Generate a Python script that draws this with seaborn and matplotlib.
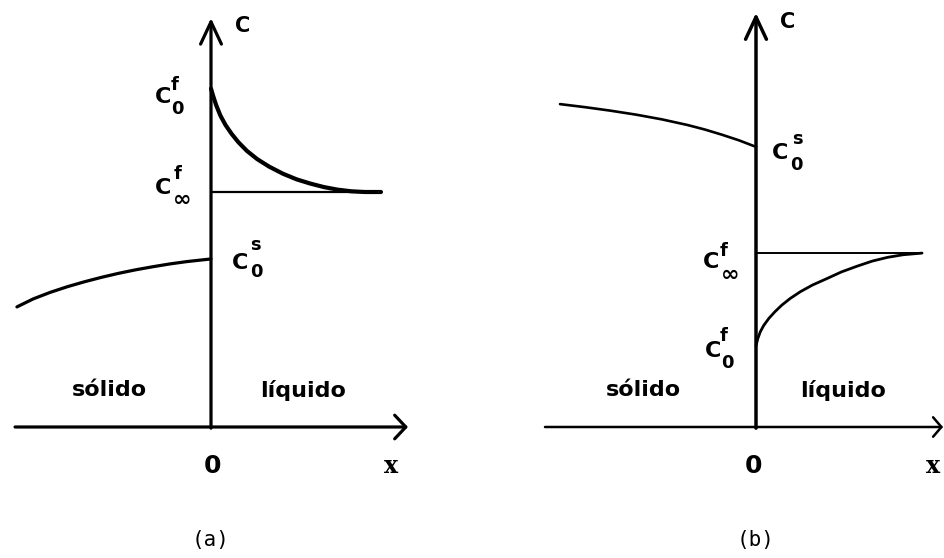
import matplotlib
matplotlib.use("Agg")
import matplotlib.pyplot as plt
import seaborn as sns

sns.set_theme(style="white")
plt.rcParams["font.family"] = ["DejaVu Sans"]
plt.rcParams["text.color"] = "black"

# ---- concentration profiles (x: distance from interface, C: concentration) ----
# (a) liquid side: enriched layer decaying towards the bulk value
a_liq_x = [0.000, 0.012, 0.030, 0.055, 0.085, 0.120, 0.160, 0.210, 0.270,
           0.340, 0.420, 0.500, 0.580, 0.660, 0.740, 0.820, 0.900, 0.994]
a_liq_c = [1.440, 1.410, 1.370, 1.325, 1.285, 1.248, 1.212, 1.175, 1.140,
           1.108, 1.078, 1.054, 1.036, 1.021, 1.010, 1.003, 1.000, 1.000]
# (a) solid side
a_sol_x = [-1.135, -1.040, -0.940, -0.840, -0.740, -0.640, -0.540, -0.440,
           -0.340, -0.240, -0.140, -0.040, 0.000]
a_sol_c = [0.511, 0.545, 0.573, 0.597, 0.618, 0.637, 0.654, 0.669,
           0.682, 0.694, 0.704, 0.712, 0.715]
a_cinf = 1.000
a_cinf_end = 0.994

# (b) liquid side: depleted layer rising towards the bulk value
b_liq_x = [0.000, 0.010, 0.025, 0.045, 0.075, 0.110, 0.150, 0.200, 0.260,
           0.330, 0.410, 0.500, 0.590, 0.680, 0.770, 0.860, 0.971]
b_liq_c = [0.345, 0.375, 0.405, 0.432, 0.462, 0.490, 0.518, 0.547, 0.576,
           0.604, 0.630, 0.660, 0.684, 0.706, 0.722, 0.733, 0.740]
# (b) solid side
b_sol_x = [-1.146, -1.000, -0.850, -0.700, -0.550, -0.400, -0.300, -0.200,
           -0.100, 0.000]
b_sol_c = [1.374, 1.361, 1.346, 1.329, 1.309, 1.285, 1.266, 1.244,
           1.220, 1.192]
b_cinf = 0.740
b_cinf_end = 0.971

region_labels = ["sólido", "líquido"]
panel_labels = ["(a)", "(b)"]

# ---- figure geometry ----
W, H = 945, 558
PX_X, PX_C = 171.0, 235.0   # pixels per data unit
BASE_PX = 427               # row of the x axis

fig = plt.figure(figsize=(W / 100, H / 100), dpi=100)
fig.patch.set_facecolor("white")


def make_axes(left_px, right_px, origin_px):
    ax = fig.add_axes([left_px / W, 0, (right_px - left_px) / W, 1])
    ax.set_xlim((left_px - origin_px) / PX_X, (right_px - origin_px) / PX_X)
    ax.set_ylim(-(H - BASE_PX) / PX_C, BASE_PX / PX_C)
    ax.set_axis_off()
    return ax


def arrow(ax, start, end, lw, hl, hw):
    ax.annotate("", xy=end, xytext=start,
                arrowprops=dict(arrowstyle=f"->,head_length={hl},head_width={hw}",
                                lw=lw, color="black", shrinkA=0, shrinkB=0,
                                mutation_scale=1))


def conc_label(ax, x, y, sub, sup, sub_off, sup_off):
    sub_size = 16 if sub == "∞" else 13
    ax.text(x, y, "C", ha="center", va="center", fontsize=16, fontweight="bold")
    ax.annotate(sub, (x, y), xytext=sub_off, textcoords="offset points",
                ha="center", va="center", fontsize=sub_size, fontweight="bold")
    ax.annotate(sup, (x, y), xytext=sup_off, textcoords="offset points",
                ha="center", va="center", fontsize=13, fontweight="bold")


def common_text(ax, sol_x, liq_x, zero_x, x_x, panel):
    ax.text(sol_x, 0.157, region_labels[0], ha="center", va="center",
            fontsize=16, fontweight="bold")
    ax.text(liq_x, 0.157, region_labels[1], ha="center", va="center",
            fontsize=16, fontweight="bold")
    ax.text(zero_x, -0.165, "0", ha="center", va="center", fontsize=18,
            fontweight="bold")
    ax.text(x_x, -0.165, "x", ha="center", va="center", fontsize=17,
            fontweight="bold", family="DejaVu Serif")
    ax.text(0.0, -0.48, panel, ha="center", va="center", fontsize=15,
            family="DejaVu Sans Mono")


# ---------------- panel (a) ----------------
ax_a = make_axes(0, W / 2, 211)
arrow(ax_a, (0, -0.005), (0, 1.74), 2.3, 16, 7.5)
arrow(ax_a, (-1.146, 0), (1.152, 0), 2.3, 8, 8.5)
ax_a.plot([0, a_cinf_end], [a_cinf, a_cinf], color="black", lw=1.6)
sns.lineplot(x=a_liq_x, y=a_liq_c, ax=ax_a, sort=False, estimator=None,
             color="black", lw=3.0, solid_capstyle="round")
sns.lineplot(x=a_sol_x, y=a_sol_c, ax=ax_a, sort=False, estimator=None,
             color="black", lw=2.3, solid_capstyle="round")
ax_a.text(0.187, 1.706, "C", ha="center", va="center", fontsize=15, fontweight="bold")
conc_label(ax_a, -0.281, 1.406, "0", "f", (10.4, -8.6), (8.6, 8.6))
conc_label(ax_a, -0.281, 1.019, "∞", "f", (13.7, -9.0), (10.4, 9.4))
conc_label(ax_a, 0.170, 0.698, "0", "s", (11.5, -6.8), (11.2, 12.6))
common_text(ax_a, -0.596, 0.541, 0.009, 1.053, panel_labels[0])

# ---------------- panel (b) ----------------
ax_b = make_axes(W / 2, W, 756)
arrow(ax_b, (0, -0.005), (0, 1.762), 2.5, 16, 7.5)
arrow(ax_b, (-1.234, 0), (1.094, 0), 1.8, 6, 7.0)
ax_b.plot([0, b_cinf_end], [b_cinf, b_cinf], color="black", lw=1.4)
sns.lineplot(x=b_liq_x, y=b_liq_c, ax=ax_b, sort=False, estimator=None,
             color="black", lw=2.0, solid_capstyle="round")
sns.lineplot(x=b_sol_x, y=b_sol_c, ax=ax_b, sort=False, estimator=None,
             color="black", lw=1.9, solid_capstyle="round")
ax_b.text(0.187, 1.723, "C", ha="center", va="center", fontsize=15, fontweight="bold")
conc_label(ax_b, 0.140, 1.166, "0", "s", (11.9, -8.6), (12.6, 10.4))
conc_label(ax_b, -0.260, 0.700, "∞", "f", (13.3, -9.0), (9.0, 8.6))
conc_label(ax_b, -0.254, 0.323, "0", "f", (10.8, -8.3), (7.6, 11.2))
common_text(ax_b, -0.661, 0.508, -0.015, 1.038, panel_labels[1])

fig.savefig("out.png", dpi=100, facecolor="white")
